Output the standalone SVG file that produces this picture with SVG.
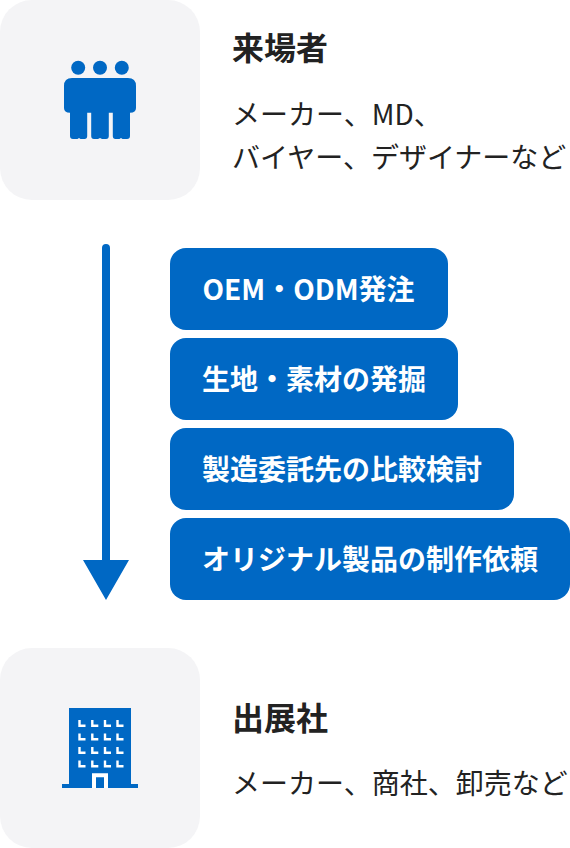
<svg xmlns="http://www.w3.org/2000/svg" width="570" height="848" viewBox="0 0 570 848">
<style>
text{font-family:"Noto Sans CJK JP","Noto Sans",sans-serif;}
.card{fill:#f4f4f6}
.blue{fill:#0068c4}
.h{font-size:32px;font-weight:700;fill:#222}
.b{font-size:28px;font-weight:400;fill:#222}
.t{font-size:28px;font-weight:700;fill:#fff}
</style>
<g id="visitor">
<rect class="card" x="0" y="0" width="200" height="200" rx="32"/>
<g class="blue">
<circle cx="78.2" cy="67.8" r="7"/><circle cx="100" cy="67.8" r="7"/><circle cx="121.8" cy="67.8" r="7"/>
<path d="M72 78H128Q136 78 136 86V108Q136 112.5 130 112.8V136Q130 139 127 139H122.5L121 138L119.5 139H115.500Q112.800 139 112.800 136V112.800H108.800V136Q108.800 139 106 139H102L100 138L98 139H94Q91.200 139 91.200 136V112.800H87.200V136Q87.200 139 84.500 139H80.500L79 138L77.500 139H73Q70 139 70 136V112.800Q64 112.500 64 108V86Q64 78 72 78Z"/>
</g>
<text class="h" x="232" y="60">来場者</text>
<text class="b" x="232" y="125">メーカー、MD、</text>
<text class="b" x="232" y="168">バイヤー、デザイナーなど</text>
</g>
<g id="connectors">
<path class="blue" d="M102 248a4 4 0 0 1 8 0V560H129L106 600L83 560H102Z"/>
</g>
<g id="step1"><rect class="blue" x="170" y="248" width="278" height="82" rx="16"/><text class="t" x="202.500" y="300">OEM・ODM発注</text></g>
<g id="step2"><rect class="blue" x="170" y="338" width="288" height="82" rx="16"/><text class="t" x="202" y="390">生地・素材の発掘</text></g>
<g id="step3"><rect class="blue" x="170" y="428" width="344" height="82" rx="16"/><text class="t" x="202" y="480">製造委託先の比較検討</text></g>
<g id="step4"><rect class="blue" x="170" y="518" width="400" height="82" rx="16"/><text class="t" x="202" y="570">オリジナル製品の制作依頼</text></g>
<g id="exhibitor">
<rect class="card" x="0" y="648" width="200" height="200" rx="32"/>
<path class="blue" d="M69 708H131V784H138V788H62V784H69Z"/>
<path fill="none" stroke="#fff" stroke-width="2.400" d="M79.500 720V725.800H85.500M92.300 720V725.800H98.300M105 720V725.800H111M117.500 720V725.800H123.500M79.500 733.500V739.300H85.500M92.300 733.500V739.300H98.300M105 733.500V739.300H111M117.500 733.500V739.300H123.500M79.500 747V752.800H85.500M92.300 747V752.800H98.300M105 747V752.800H111M117.500 747V752.800H123.500M79.500 760.500V766.300H85.500M92.300 760.500V766.300H98.300M105 760.500V766.300H111M117.500 760.500V766.300H123.500"/>
<path fill="none" stroke="#fff" stroke-width="4" d="M94 788V775.300H106V788"/>
<text class="h" x="232" y="730">出展社</text>
<text class="b" x="232" y="794">メーカー、商社、卸売など</text>
</g>
</svg>
